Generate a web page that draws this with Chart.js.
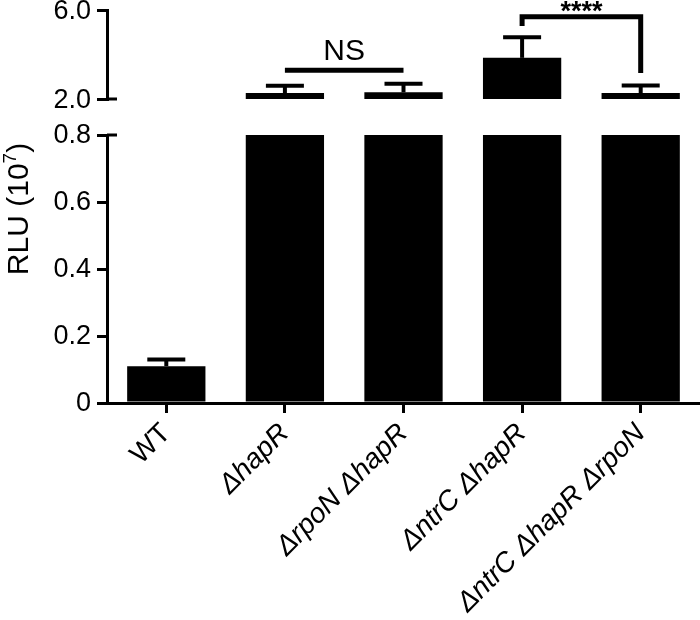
<!DOCTYPE html>
<html><head><meta charset="utf-8">
<script src="https://cdn.jsdelivr.net/npm/chart.js@4.4.1/dist/chart.umd.min.js"></script>
<style>html,body{margin:0;padding:0;background:#fff}canvas{display:block}</style>
</head><body>
<canvas id="c" width="700" height="620"></canvas>
<script>
// ---- data ----
const categories = ['WT', 'ΔhapR', 'ΔrpoN ΔhapR', 'ΔntrC ΔhapR', 'ΔntrC ΔhapR ΔrpoN'];
const meanRLU = [0.11, 2.27, 2.30, 3.85, 2.27];
const errRLU = [0.02, 0.33, 0.38, 0.93, 0.34];
const lowTicks = [0, 0.2, 0.4, 0.6, 0.8];
const lowTickLabels = ['0', '0.2', '0.4', '0.6', '0.8'];
const highTicks = [2, 4, 6];
const highTickLabels = ['2.0', '4.0', '6.0'];
const lowRange = [0, 0.8];
const highRange = [2, 6];
const comparisons = [
  {from: 1, to: 2, label: 'NS', level: 3.29, dropFrom: null, dropTo: null},
  {from: 3, to: 4, label: '****', level: 5.70, dropFrom: 5.28, dropTo: 3.17}
];

const FONT = "'Liberation Sans', Arial, Helvetica, sans-serif";
Chart.defaults.color = '#000';
Chart.defaults.font.family = FONT;

const lowData = meanRLU.map(v => Math.min(v, lowRange[1]));
const highData = meanRLU.map(v => v > highRange[0] ? v : null);

const overlay = {
  id: 'overlay',
  afterDatasetsDraw(chart) {
    const {ctx} = chart;
    const x = chart.scales.x, y = chart.scales.y, y2 = chart.scales.y2;
    ctx.save();
    ctx.strokeStyle = '#000';
    ctx.lineWidth = 4;
    meanRLU.forEach((m, i) => {
      const s = m > lowRange[1] ? y2 : y;
      const px = x.getPixelForValue(i);
      const y0 = s.getPixelForValue(m);
      const y1 = s.getPixelForValue(m + errRLU[i]);
      ctx.beginPath(); ctx.moveTo(px, y0); ctx.lineTo(px, y1); ctx.stroke();
      ctx.beginPath(); ctx.moveTo(px - 19, y1); ctx.lineTo(px + 19, y1); ctx.stroke();
    });
    ctx.restore();
  },
  afterDraw(chart) {
    const {ctx} = chart;
    const x = chart.scales.x, y = chart.scales.y, y2 = chart.scales.y2;
    ctx.save();
    ctx.strokeStyle = '#000';
    ctx.fillStyle = '#000';
    ctx.lineWidth = 5;
    ctx.lineJoin = 'miter';
    comparisons.forEach(c => {
      const xa = x.getPixelForValue(c.from), xb = x.getPixelForValue(c.to);
      const yl = y2.getPixelForValue(c.level);
      ctx.beginPath();
      if (c.dropFrom !== null) { ctx.moveTo(xa, y2.getPixelForValue(c.dropFrom)); ctx.lineTo(xa, yl); }
      else ctx.moveTo(xa, yl);
      ctx.lineTo(xb, yl);
      if (c.dropTo !== null) ctx.lineTo(xb, y2.getPixelForValue(c.dropTo));
      ctx.stroke();
      ctx.textAlign = 'center';
      ctx.textBaseline = 'alphabetic';
      if (c.label === 'NS') {
        ctx.font = '30px ' + FONT;
        ctx.fillText(c.label, (xa + xb) / 2, yl - 10);
      } else {
        ctx.font = 'bold 27px ' + FONT;
        ctx.fillText(c.label, (xa + xb) / 2, yl + 3);
      }
    });
    ctx.lineWidth = 3;
    const left = chart.chartArea.left;
    [y2.getPixelForValue(highRange[0]), y.getPixelForValue(lowRange[1])].forEach(py => {
      ctx.beginPath(); ctx.moveTo(left, py); ctx.lineTo(left + 10, py); ctx.stroke();
    });
    ctx.translate(28, 209);
    ctx.rotate(-Math.PI / 2);
    ctx.textAlign = 'left';
    ctx.textBaseline = 'alphabetic';
    const big = '30px ' + FONT, small = '19px ' + FONT;
    ctx.font = big; const w1 = ctx.measureText('RLU (10').width; const w3 = ctx.measureText(')').width;
    ctx.font = small; const w2 = ctx.measureText('7').width;
    let sx = -(w1 + w2 + w3) / 2;
    ctx.font = big; ctx.fillText('RLU (10', sx, 0); sx += w1;
    ctx.font = small; ctx.fillText('7', sx, -12); sx += w2;
    ctx.font = big; ctx.fillText(')', sx, 0);
    ctx.restore();
  }
};

const axisFit = s => { s.width = 107; s.paddingTop = 0; s.paddingBottom = 0; };
const tickGrid = {display: true, drawOnChartArea: false, drawTicks: true, tickLength: 10, color: '#000', lineWidth: 3};

new Chart(document.getElementById('c'), {
  type: 'bar',
  data: {
    labels: categories,
    datasets: [
      {data: lowData, yAxisID: 'y', backgroundColor: '#000', borderWidth: 0, grouped: false, barPercentage: 0.66, categoryPercentage: 1},
      {data: highData, yAxisID: 'y2', backgroundColor: '#000', borderWidth: 0, grouped: false, barPercentage: 0.66, categoryPercentage: 1}
    ]
  },
  options: {
    responsive: false,
    animation: false,
    events: [],
    layout: {padding: {top: 10, left: 0, right: 0, bottom: 0}},
    plugins: {legend: {display: false}, tooltip: {enabled: false}, title: {display: false}},
    scales: {
      x: {
        type: 'category',
        offset: true,
        grid: Object.assign({}, tickGrid, {offset: false}),
        border: {display: true, color: '#000', width: 3},
        ticks: {
          autoSkip: false, minRotation: 45, maxRotation: 45, padding: 4,
          font: ctx => ({family: FONT, size: 28, style: ctx.index === 0 ? 'normal' : 'italic'})
        },
        afterFit: s => { s.height = 217; s.paddingLeft = 0; s.paddingRight = 0; }
      },
      y: {
        type: 'linear', position: 'left', stack: 'rlu', stackWeight: 268,
        min: lowRange[0], max: lowRange[1],
        grid: tickGrid,
        border: {display: true, color: '#000', width: 3},
        afterBuildTicks: s => { s.ticks = lowTicks.map(v => ({value: v})); },
        ticks: {font: {size: 27}, padding: 6, labelOffset: 1, callback: (v, i) => lowTickLabels[i]},
        afterFit: axisFit
      },
      gap: {
        type: 'linear', position: 'left', stack: 'rlu', stackWeight: 36,
        grid: {display: false}, border: {display: false}, ticks: {display: false},
        afterFit: axisFit
      },
      y2: {
        type: 'linear', position: 'left', stack: 'rlu', stackWeight: 89,
        min: highRange[0], max: highRange[1],
        grid: tickGrid,
        border: {display: true, color: '#000', width: 3},
        afterBuildTicks: s => { s.ticks = highTicks.map(v => ({value: v})); },
        ticks: {font: {size: 27}, padding: 6, labelOffset: 2, callback: (v, i) => highTickLabels[i]},
        afterFit: axisFit
      }
    }
  },
  plugins: [overlay]
});
</script>
</body></html>
